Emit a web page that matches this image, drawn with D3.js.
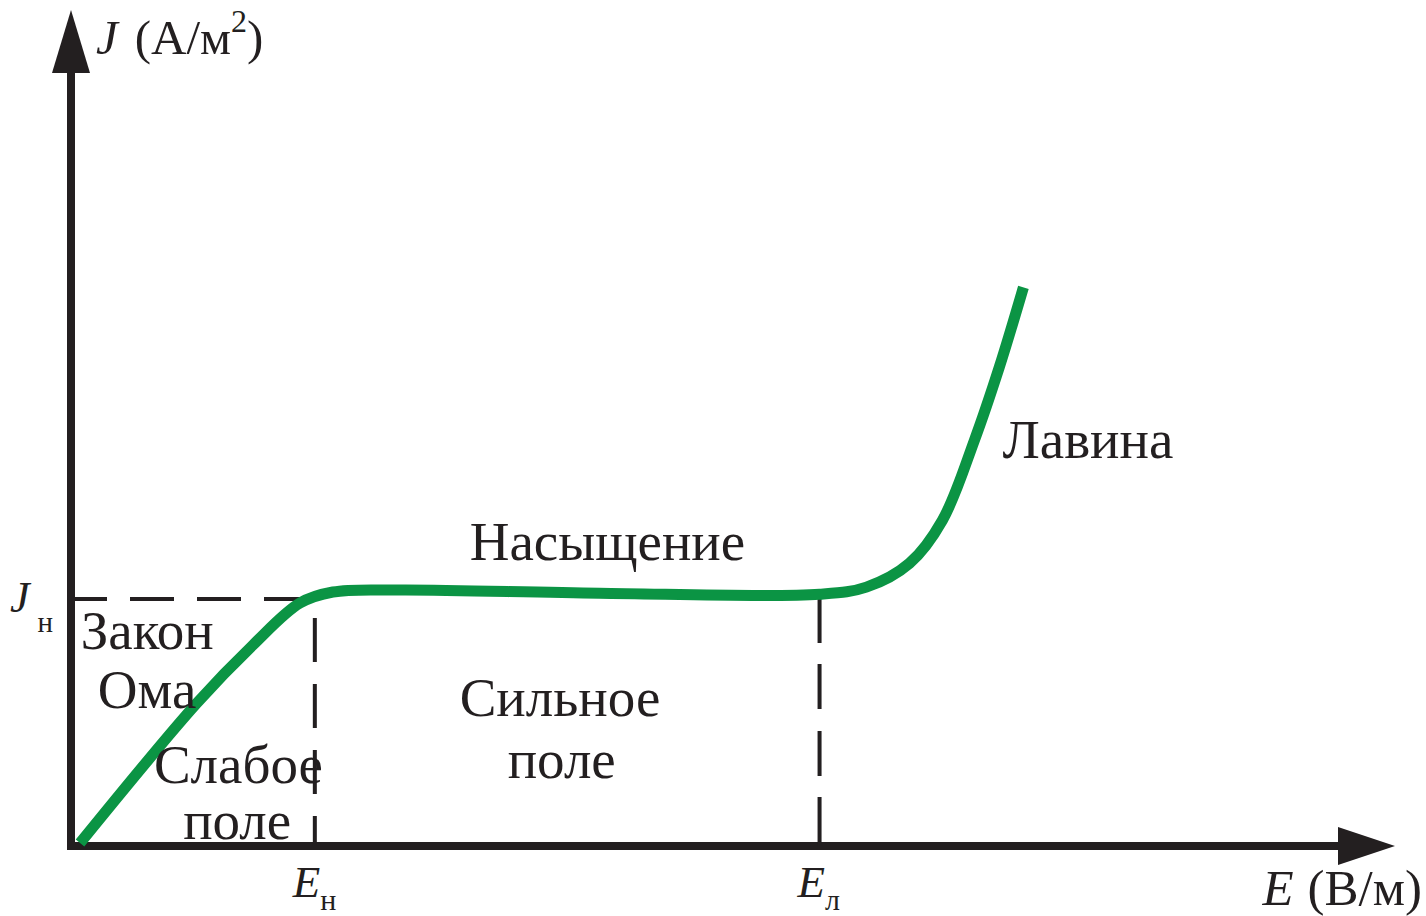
<!DOCTYPE html>
<html>
<head>
<meta charset="utf-8">
<script src="https://cdn.jsdelivr.net/npm/d3@7"></script>
<style>
  body { margin: 0; background: #fff; }
  text { font-family: "Liberation Serif", "Times New Roman", serif; fill: #231f20; }
</style>
</head>
<body>
<div id="chart"></div>
<script>
var width = 1426;
var height = 916;

// curve J(E), in units of E_н and J_н
const curveE = [0.037, 0.516, 0.746, 0.939, 1.074, 1.348, 2.168, 3.07, 3.262, 3.439, 3.574, 3.705, 3.807, 3.906];
const curveJ = [0.012, 0.581, 0.817, 0.988, 1.033, 1.041, 1.028, 1.024, 1.053, 1.15, 1.325, 1.65, 1.947, 2.272];

const En = 1.0;     // E_н
const El = 3.07;    // E_л
const Jn = 1.0;     // J_н
const Eaxis = 5.43;
const Jaxis = 3.4;

const regionLabels = [
    { text: "Закон", x: 0.04, y: 0.80 },
    { text: "Ома", x: 0.11, y: 0.56 },
    { text: "Слабое", x: 0.34, y: 0.255 },
    { text: "поле", x: 0.46, y: 0.03 },
    { text: "Насыщение", x: 1.635, y: 1.163 },
    { text: "Сильное", x: 1.594, y: 0.528 },
    { text: "поле", x: 1.791, y: 0.276 },
    { text: "Лавина", x: 3.820, y: 1.577 }
];

const svg = d3.select("#chart")
    .append("svg")
    .attr("width", width)
    .attr("height", height);

var x = d3.scaleLinear().domain([0, Eaxis]).range([71, 1395]);
var y = d3.scaleLinear().domain([0, Jaxis]).range([846, 10]);

var ink = "#231f20";
var green = "#0b9444";

// axes
svg.append("line")
    .attr("x1", x(0) - 4).attr("y1", y(0))
    .attr("x2", x(Eaxis) - 50).attr("y2", y(0))
    .attr("stroke", ink).attr("stroke-width", 8);
svg.append("line")
    .attr("x1", x(0)).attr("y1", y(0) + 4)
    .attr("x2", x(0)).attr("y2", y(Jaxis) + 60)
    .attr("stroke", ink).attr("stroke-width", 8);

// arrow heads
svg.append("path")
    .attr("d", "M" + x(Eaxis) + "," + y(0) + "L" + (x(Eaxis) - 57) + "," + (y(0) - 19) + "L" + (x(Eaxis) - 57) + "," + (y(0) + 19) + "Z")
    .attr("fill", ink);
svg.append("path")
    .attr("d", "M" + x(0) + "," + y(Jaxis) + "L" + (x(0) - 19) + "," + (y(Jaxis) + 63) + "L" + (x(0) + 19) + "," + (y(Jaxis) + 63) + "Z")
    .attr("fill", ink);

// dashed guides
svg.append("line")
    .attr("x1", x(0) + 4).attr("y1", y(Jn) - 1)
    .attr("x2", x(0.96)).attr("y2", y(Jn) - 1)
    .attr("stroke", ink).attr("stroke-width", 4)
    .attr("stroke-dasharray", "32,23,44,23,44,23,44");
svg.append("line")
    .attr("x1", x(En)).attr("y1", y(0))
    .attr("x2", x(En)).attr("y2", y(Jn) - 6)
    .attr("stroke", ink).attr("stroke-width", 4)
    .attr("stroke-dasharray", "30,22,44,22,44,22,44");
svg.append("line")
    .attr("x1", x(El)).attr("y1", y(0))
    .attr("x2", x(El)).attr("y2", y(1.01))
    .attr("stroke", ink).attr("stroke-width", 4)
    .attr("stroke-dasharray", "49,21,45,22,45,21,45");

// curve
var pts = curveE.map(function (e, i) { return [e, curveJ[i]]; });
var line = d3.line()
    .x(function (d) { return x(d[0]); })
    .y(function (d) { return y(d[1]); })
    .curve(d3.curveCatmullRom.alpha(0.5));
svg.append("path")
    .datum(pts)
    .attr("d", line)
    .attr("fill", "none")
    .attr("stroke", green)
    .attr("stroke-width", 11);

// axis titles
var yt = svg.append("text").attr("x", 96).attr("y", 54).attr("font-size", 49);
yt.append("tspan").attr("font-style", "italic").text("J");
yt.append("tspan").attr("dx", 17).text("(А/м");
yt.append("tspan").attr("font-size", 32).attr("dy", -22).text("2");
yt.append("tspan").attr("dy", 22).text(")");

var xt = svg.append("text").attr("x", 1422).attr("y", 905).attr("font-size", 51).attr("text-anchor", "end");
xt.append("tspan").attr("font-style", "italic").text("E");
xt.append("tspan").attr("dx", 14).text("(В/м)");

// J_н, E_н, E_л marks
var jl = svg.append("text").attr("x", 10).attr("y", 612).attr("font-size", 44);
jl.append("tspan").attr("font-style", "italic").text("J");
jl.append("tspan").attr("font-size", 29).attr("dy", 20).attr("dx", 8).text("н");

var enl = svg.append("text").attr("x", x(En) - 22).attr("y", 897).attr("font-size", 45);
enl.append("tspan").attr("font-style", "italic").text("E");
enl.append("tspan").attr("font-size", 30).attr("dy", 13).text("н");

var ell = svg.append("text").attr("x", x(El) - 22).attr("y", 897).attr("font-size", 45);
ell.append("tspan").attr("font-style", "italic").text("E");
ell.append("tspan").attr("font-size", 30).attr("dy", 13).text("л");

// region labels
svg.selectAll(".region")
    .data(regionLabels)
    .enter().append("text")
    .attr("class", "region")
    .attr("x", function (d) { return x(d.x); })
    .attr("y", function (d) { return y(d.y); })
    .attr("font-size", 55)
    .text(function (d) { return d.text; });
</script>
</body>
</html>
